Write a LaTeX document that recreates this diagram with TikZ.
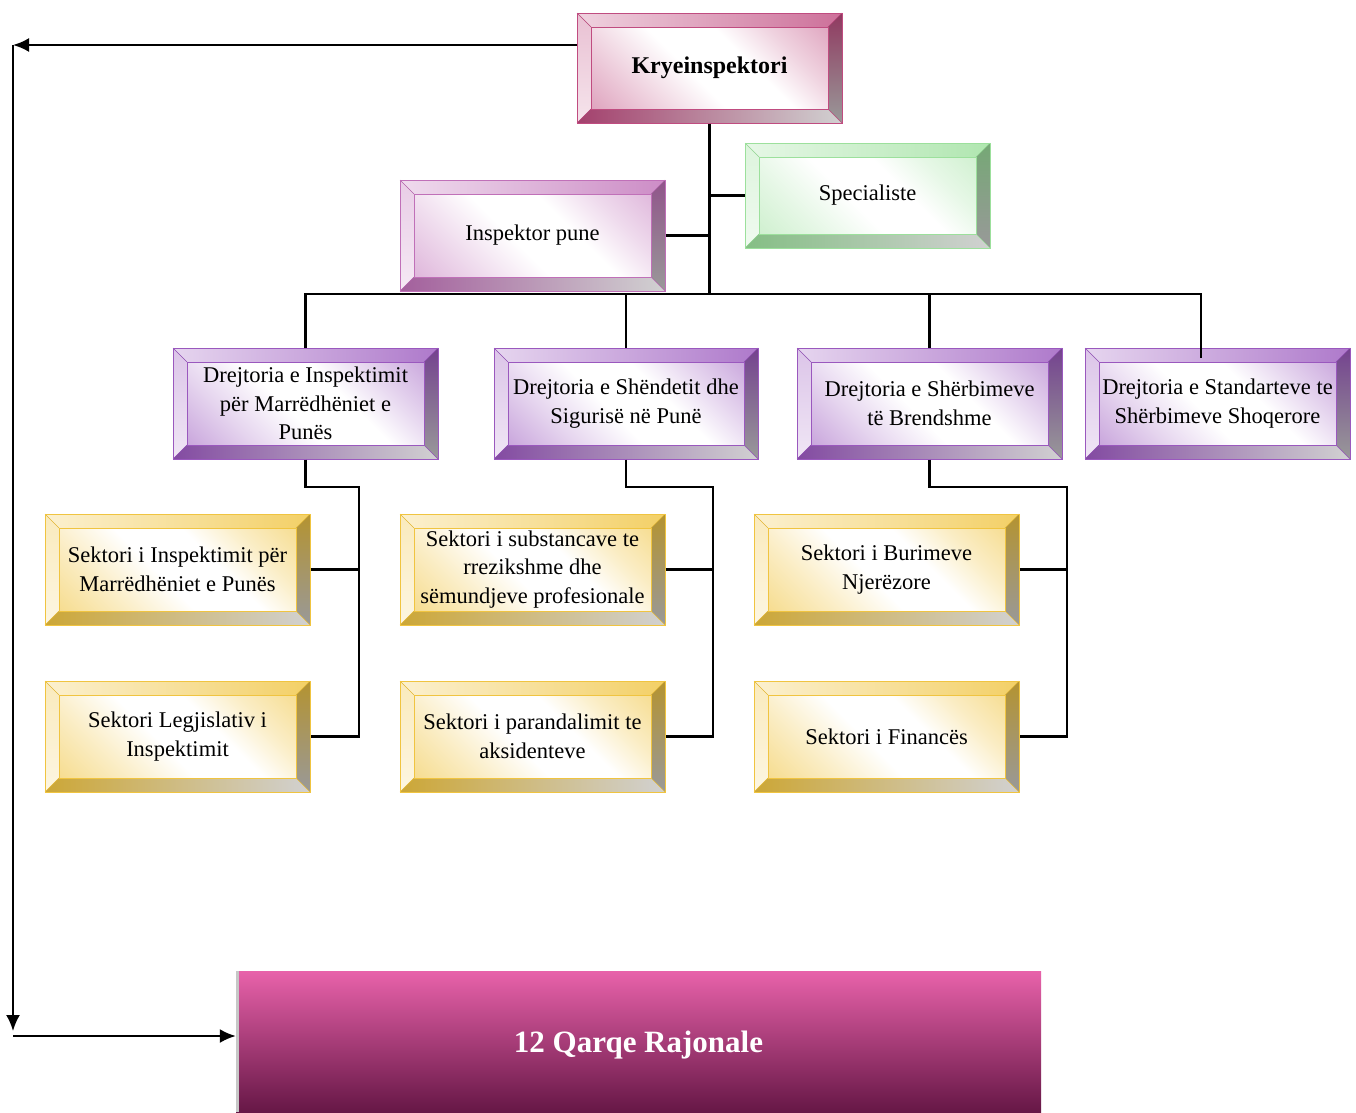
\documentclass[tikz,border=0pt]{standalone}
\usepackage{fontspec}
\setmainfont{Liberation Serif}
\usetikzlibrary{arrows.meta}
\definecolor{kryec}{HTML}{C04C80}
\definecolor{specc}{HTML}{9CE09C}
\definecolor{inspc}{HTML}{C070B8}
\definecolor{drejc}{HTML}{9A58BE}
\definecolor{sektc}{HTML}{F0C440}
\definecolor{qtop}{HTML}{E862AA}
\definecolor{qbot}{HTML}{661746}
\pgfdeclareverticalshading{bev-kryec}{100bp}{color(0bp)=(kryec!75); color(30bp)=(kryec!25); color(45bp)=(white); color(60bp)=(white); color(72bp)=(kryec!25); color(100bp)=(kryec!75)}
\pgfdeclareverticalshading{bev-specc}{100bp}{color(0bp)=(specc!70); color(30bp)=(specc!25); color(45bp)=(white); color(60bp)=(white); color(72bp)=(specc!25); color(100bp)=(specc!70)}
\pgfdeclareverticalshading{bev-inspc}{100bp}{color(0bp)=(inspc!75); color(30bp)=(inspc!25); color(45bp)=(white); color(60bp)=(white); color(72bp)=(inspc!25); color(100bp)=(inspc!75)}
\pgfdeclareverticalshading{bev-drejc}{100bp}{color(0bp)=(drejc!80); color(30bp)=(drejc!25); color(45bp)=(white); color(60bp)=(white); color(72bp)=(drejc!25); color(100bp)=(drejc!80)}
\pgfdeclareverticalshading{bev-sektc}{100bp}{color(0bp)=(sektc!85); color(30bp)=(sektc!30); color(45bp)=(white); color(60bp)=(white); color(72bp)=(sektc!30); color(100bp)=(sektc!85)}
\tikzset{
  conn/.style={line width=2.2pt, black},
  arr/.style={conn, -{Latex[length=16pt,width=14pt]}},
  boxtext/.style={font=\fontsize{22.5}{28.5}\selectfont, align=center, text=black},
}
\newcommand\bevbox[7]{%
  \fill[left color=#6!25!white, right color=#6!80] (#2,#3) -- (#4,#3) -- ({#4-14},{#3+14}) -- ({#2+14},{#3+14}) -- cycle;
  \fill[top color=#6!35!white, bottom color=#6!15!white] (#2,#3) -- ({#2+14},{#3+14}) -- ({#2+14},{#5-14}) -- (#2,#5) -- cycle;
  \fill[top color=#6!75!black, bottom color=black!40] (#4,#3) -- (#4,#5) -- ({#4-14},{#5-14}) -- ({#4-14},{#3+14}) -- cycle;
  \fill[left color=#6!85!black, right color=black!18] (#2,#5) -- (#4,#5) -- ({#4-14},{#5-14}) -- ({#2+14},{#5-14}) -- cycle;
  \shade[shading=bev-#6, shading angle=-45] ({#2+14},{#3+14}) rectangle ({#4-14},{#5-14});
  \draw[#6, line width=1pt] ({#2+14},{#3+14}) rectangle ({#4-14},{#5-14});
  \draw[#6, line width=0.6pt] (#2,#3) -- ({#2+14},{#3+14}) (#4,#3) -- ({#4-14},{#3+14}) (#2,#5) -- ({#2+14},{#5-14}) (#4,#5) -- ({#4-14},{#5-14});
  \node[draw=#6, line width=1pt, minimum width={#4-#2}, minimum height={#5-#3}, inner sep=0pt, boxtext] (#1) at ({(#2+#4)/2},{(#3+#5)/2}) {#7};
}
\begin{document}
\begin{tikzpicture}[x=1pt,y=-1pt]
\useasboundingbox (0,0) rectangle (1356,1112);
% boxes
\bevbox{krye}{577}{13}{842}{123}{kryec}{\fontsize{24}{28}\selectfont\bfseries Kryeinspektori}
\bevbox{spec}{745}{143}{990}{248}{specc}{Specialiste}
\bevbox{insp}{400}{180}{665}{291}{inspc}{Inspektor pune}
\bevbox{d1}{173}{348}{438}{459}{drejc}{Drejtoria e Inspektimit\\për Marrëdhëniet e\\Punës}
\bevbox{d2}{494}{348}{758}{459}{drejc}{Drejtoria e Shëndetit dhe\\Sigurisë në Punë}
\bevbox{d3}{797}{348}{1062}{459}{drejc}{Drejtoria e Shërbimeve\\të Brendshme}
\bevbox{d4}{1085}{348}{1350}{459}{drejc}{Drejtoria e Standarteve te\\Shërbimeve Shoqerore}
\bevbox{s1}{45}{514}{310}{625}{sektc}{Sektori i Inspektimit për\\Marrëdhëniet e Punës}
\bevbox{s2}{45}{681}{310}{792}{sektc}{Sektori Legjislativ i\\Inspektimit}
\bevbox{s3}{400}{514}{665}{625}{sektc}{Sektori i substancave te\\rrezikshme dhe\\sëmundjeve profesionale}
\bevbox{s4}{400}{681}{665}{792}{sektc}{Sektori i parandalimit te\\aksidenteve}
\bevbox{s5}{754}{514}{1019}{625}{sektc}{Sektori i Burimeve\\Njerëzore}
\bevbox{s6}{754}{681}{1019}{792}{sektc}{Sektori i Financës}
% regional box
\shade[top color=qtop, bottom color=qbot] (236,971) rectangle (1041,1112);
\fill[black!22] (236,971) rectangle (239,1112);
\node[minimum width=805, minimum height=148, inner sep=0pt, text=white, font=\fontsize{31}{34}\selectfont\bfseries] (q) at (638.5,1045) {12 Qarqe Rajonale};
% coordinates
\coordinate (bar) at (710,294);
\coordinate (b4) at (1201,294);
\coordinate (b4end) at (1201,358);
\coordinate (rowy) at (0,487);
\coordinate (g1r) at (359,487);
\coordinate (g2r) at (713,487);
\coordinate (g3r) at (1067,487);
\coordinate (la) at (13,45);
\coordinate (lb) at (13,1031);
\coordinate (lc) at (13,1036);
% connectors
\draw[conn] (krye.south) -- (krye.south |- bar);
\draw[conn] (spec.west) -- (spec.west -| krye.south);
\draw[conn] (insp.east) -- (insp.east -| krye.south);
\draw[conn] (d1.north) -- (d1.north |- bar) -- (b4) -- (b4end);
\draw[conn] (d2.north) -- (d2.north |- bar);
\draw[conn] (d3.north) -- (d3.north |- bar);
\draw[conn] (d1.south) -- (d1.south |- rowy) -- (g1r) -- (g1r |- s2.east) -- (s2.east);
\draw[conn] (s1.east) -- (s1.east -| g1r);
\draw[conn] (d2.south) -- (d2.south |- rowy) -- (g2r) -- (g2r |- s4.east) -- (s4.east);
\draw[conn] (s3.east) -- (s3.east -| g2r);
\draw[conn] (d3.south) -- (d3.south |- rowy) -- (g3r) -- (g3r |- s6.east) -- (s6.east);
\draw[conn] (s5.east) -- (s5.east -| g3r);
% arrows
\draw[arr] (krye.west |- la) -- (la);
\draw[arr] (la) -- (lb);
\draw[arr] (lc) -- (q.west |- lc);
\end{tikzpicture}
\end{document}
